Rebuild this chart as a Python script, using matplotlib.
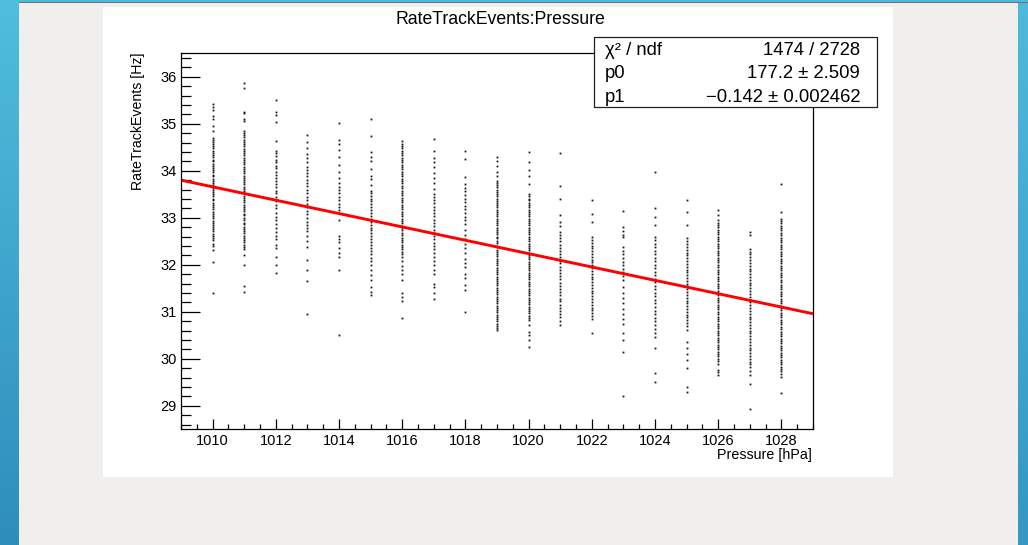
import matplotlib
matplotlib.use("Agg")
import matplotlib.pyplot as plt
import numpy as np
from matplotlib.patches import Rectangle
from matplotlib.ticker import MultipleLocator

plt.rcParams["font.family"] = ["Liberation Sans", "DejaVu Sans"]

# rate readings [Hz] per pressure bin [hPa]
pressures = [1010, 1011, 1012, 1013, 1014, 1015, 1016, 1017, 1018, 1019,
             1020, 1021, 1022, 1023, 1024, 1025, 1026, 1027, 1028]

rate_1010 = [35.42, 35.35, 35.29, 35.17, 35.10, 34.96, 34.85, 34.70, 34.66, 34.61, 34.57, 34.52,
             34.48, 34.43, 34.38, 34.34, 34.29, 34.24, 34.20, 34.15, 34.11, 34.06, 34.01, 33.97,
             33.92, 33.88, 33.83, 33.78, 33.74, 33.69, 33.64, 33.60, 33.55, 33.51, 33.46, 33.41,
             33.37, 33.32, 33.27, 33.22, 33.18, 33.13, 33.09, 33.04, 32.99, 32.94, 32.90, 32.85,
             32.80, 32.76, 32.71, 32.66, 32.62, 32.57, 32.52, 32.45, 32.39, 32.31, 32.06, 31.41]
rate_1011 = [35.87, 35.77, 35.26, 35.22, 35.10, 35.05, 34.85, 34.80, 34.76, 34.71, 34.66, 34.61,
             34.57, 34.52, 34.47, 34.42, 34.38, 34.33, 34.28, 34.23, 34.19, 34.14, 34.09, 34.04,
             34.00, 33.95, 33.90, 33.85, 33.81, 33.76, 33.71, 33.66, 33.62, 33.57, 33.52, 33.47,
             33.43, 33.38, 33.33, 33.28, 33.24, 33.19, 33.14, 33.09, 33.05, 33.00, 32.95, 32.90,
             32.86, 32.81, 32.76, 32.71, 32.67, 32.62, 32.57, 32.52, 32.48, 32.43, 32.38, 32.33,
             32.21, 32.00, 31.54, 31.42]
rate_1012 = [35.50, 35.25, 35.18, 35.04, 34.64, 34.43, 34.37, 34.31, 34.24, 34.18, 34.11, 34.05,
             33.98, 33.92, 33.85, 33.78, 33.72, 33.65, 33.58, 33.52, 33.45, 33.36, 33.27, 33.20,
             33.10, 33.02, 32.95, 32.86, 32.78, 32.70, 32.62, 32.55, 32.43, 32.35, 32.17, 31.99,
             31.82]
rate_1013 = [34.76, 34.62, 34.48, 34.36, 34.27, 34.18, 34.09, 34.02, 33.95, 33.88, 33.80, 33.74,
             33.67, 33.60, 33.52, 33.45, 33.38, 33.30, 33.22, 33.15, 33.08, 33.00, 32.92, 32.85,
             32.78, 32.72, 32.62, 32.51, 32.38, 32.10, 31.88, 31.66, 30.95]
rate_1014 = [35.02, 34.65, 34.58, 34.45, 34.30, 34.12, 33.98, 33.85, 33.75, 33.66, 33.60, 33.52,
             33.45, 33.38, 33.30, 33.24, 33.17, 33.10, 32.95, 32.62, 32.55, 32.48, 32.35, 32.25,
             32.16, 31.90, 30.51]
rate_1015 = [35.10, 34.75, 34.39, 34.30, 34.20, 34.03, 33.90, 33.83, 33.69, 33.58, 33.53, 33.47,
             33.41, 33.35, 33.29, 33.22, 33.16, 33.10, 33.04, 32.98, 32.92, 32.85, 32.79, 32.73,
             32.67, 32.61, 32.55, 32.48, 32.42, 32.36, 32.30, 32.22, 32.15, 32.09, 32.00, 31.88,
             31.78, 31.67, 31.53, 31.43, 31.35]
rate_1016 = [34.63, 34.58, 34.53, 34.48, 34.43, 34.38, 34.33, 34.28, 34.23, 34.18, 34.13, 34.08,
             34.03, 33.98, 33.93, 33.88, 33.83, 33.78, 33.73, 33.68, 33.63, 33.58, 33.53, 33.48,
             33.43, 33.38, 33.33, 33.28, 33.23, 33.18, 33.13, 33.08, 33.03, 32.98, 32.93, 32.88,
             32.83, 32.78, 32.73, 32.68, 32.63, 32.58, 32.53, 32.48, 32.43, 32.38, 32.33, 32.28,
             32.23, 32.16, 32.08, 31.98, 31.90, 31.80, 31.67, 31.40, 31.32, 31.23, 30.86]
rate_1017 = [34.68, 34.43, 34.28, 34.18, 34.08, 33.95, 33.85, 33.74, 33.62, 33.51, 33.44, 33.38,
             33.31, 33.24, 33.17, 33.10, 33.03, 32.96, 32.89, 32.82, 32.75, 32.68, 32.61, 32.54,
             32.47, 32.40, 32.33, 32.25, 32.17, 32.09, 32.00, 31.90, 31.81, 31.60, 31.52, 31.40,
             31.28]
rate_1018 = [34.43, 34.25, 33.86, 33.72, 33.64, 33.57, 33.48, 33.41, 33.33, 33.26, 33.18, 33.10,
             33.02, 32.95, 32.87, 32.73, 32.64, 32.55, 32.45, 32.35, 32.25, 32.12, 32.04, 31.95,
             31.81, 31.72, 31.58, 31.46, 31.00]
rate_1019 = [34.29, 34.20, 34.10, 33.98, 33.88, 33.79, 33.74, 33.70, 33.65, 33.60, 33.55, 33.51,
             33.46, 33.41, 33.36, 33.32, 33.27, 33.22, 33.17, 33.13, 33.08, 33.03, 32.98, 32.94,
             32.89, 32.84, 32.79, 32.75, 32.70, 32.65, 32.60, 32.56, 32.51, 32.46, 32.41, 32.37,
             32.32, 32.27, 32.22, 32.18, 32.13, 32.08, 32.03, 31.99, 31.94, 31.89, 31.84, 31.80,
             31.75, 31.70, 31.65, 31.61, 31.56, 31.51, 31.46, 31.42, 31.37, 31.32, 31.27, 31.23,
             31.18, 31.13, 31.08, 31.04, 30.99, 30.94, 30.89, 30.85, 30.80, 30.75, 30.70, 30.66,
             30.61]
rate_1020 = [34.39, 34.18, 34.02, 33.90, 33.72, 33.51, 33.46, 33.41, 33.37, 33.32, 33.27, 33.22,
             33.17, 33.13, 33.08, 33.03, 32.98, 32.93, 32.89, 32.84, 32.79, 32.74, 32.69, 32.65,
             32.60, 32.55, 32.50, 32.45, 32.41, 32.36, 32.31, 32.26, 32.21, 32.17, 32.12, 32.07,
             32.02, 31.97, 31.93, 31.88, 31.83, 31.78, 31.73, 31.69, 31.64, 31.59, 31.54, 31.49,
             31.45, 31.40, 31.35, 31.30, 31.25, 31.21, 31.16, 31.11, 31.06, 31.01, 30.97, 30.92,
             30.87, 30.82, 30.71, 30.58, 30.50, 30.39, 30.25]
rate_1021 = [34.37, 33.68, 33.40, 33.05, 32.92, 32.82, 32.70, 32.63, 32.57, 32.50, 32.43, 32.36,
             32.30, 32.23, 32.16, 32.09, 32.03, 31.96, 31.89, 31.82, 31.76, 31.69, 31.62, 31.55,
             31.49, 31.42, 31.35, 31.28, 31.22, 31.15, 31.08, 31.01, 30.95, 30.88, 30.81, 30.71]
rate_1022 = [33.37, 33.09, 32.91, 32.59, 32.53, 32.47, 32.41, 32.35, 32.29, 32.23, 32.17, 32.11,
             32.05, 31.99, 31.93, 31.87, 31.81, 31.75, 31.69, 31.63, 31.57, 31.51, 31.45, 31.39,
             31.33, 31.27, 31.21, 31.15, 31.09, 31.03, 30.97, 30.91, 30.85, 30.54]
rate_1023 = [33.14, 32.80, 32.72, 32.64, 32.59, 32.38, 32.30, 32.22, 32.15, 32.07, 32.00, 31.92,
             31.85, 31.76, 31.67, 31.52, 31.40, 31.30, 31.18, 31.07, 30.95, 30.85, 30.75, 30.54,
             30.40, 30.15, 29.20]
rate_1024 = [33.97, 33.21, 33.02, 32.84, 32.59, 32.52, 32.45, 32.38, 32.30, 32.22, 32.15, 32.08,
             32.00, 31.93, 31.85, 31.78, 31.70, 31.63, 31.55, 31.48, 31.40, 31.33, 31.25, 31.18,
             31.10, 31.02, 30.95, 30.87, 30.80, 30.72, 30.63, 30.55, 30.47, 30.22, 29.69, 29.51]
rate_1025 = [33.37, 33.12, 32.84, 32.56, 32.50, 32.44, 32.38, 32.32, 32.26, 32.20, 32.14, 32.08,
             32.02, 31.96, 31.90, 31.84, 31.78, 31.72, 31.66, 31.60, 31.54, 31.48, 31.42, 31.36,
             31.30, 31.24, 31.18, 31.12, 31.06, 31.00, 30.94, 30.88, 30.82, 30.76, 30.70, 30.61,
             30.36, 30.22, 30.10, 29.97, 29.80, 29.41, 29.30]
rate_1026 = [33.16, 33.06, 32.95, 32.90, 32.85, 32.80, 32.75, 32.70, 32.65, 32.60, 32.55, 32.50,
             32.45, 32.40, 32.35, 32.30, 32.25, 32.20, 32.15, 32.10, 32.05, 32.00, 31.95, 31.90,
             31.85, 31.80, 31.75, 31.70, 31.65, 31.60, 31.55, 31.50, 31.45, 31.40, 31.35, 31.30,
             31.25, 31.20, 31.15, 31.10, 31.05, 31.00, 30.95, 30.90, 30.85, 30.80, 30.75, 30.70,
             30.65, 30.60, 30.55, 30.50, 30.45, 30.40, 30.35, 30.30, 30.25, 30.20, 30.15, 30.10,
             30.05, 30.00, 29.95, 29.90, 29.76, 29.71, 29.66]
rate_1027 = [32.70, 32.63, 32.34, 32.28, 32.22, 32.16, 32.10, 32.04, 31.98, 31.92, 31.86, 31.80,
             31.74, 31.68, 31.62, 31.56, 31.50, 31.44, 31.38, 31.32, 31.26, 31.20, 31.14, 31.08,
             31.02, 30.96, 30.90, 30.84, 30.78, 30.72, 30.66, 30.60, 30.54, 30.48, 30.42, 30.36,
             30.30, 30.24, 30.18, 30.12, 30.06, 30.00, 29.94, 29.88, 29.83, 29.74, 29.66, 29.46,
             28.93]
rate_1028 = [33.72, 33.12, 32.98, 32.93, 32.88, 32.83, 32.78, 32.73, 32.68, 32.63, 32.58, 32.53,
             32.48, 32.43, 32.38, 32.33, 32.28, 32.23, 32.18, 32.13, 32.08, 32.03, 31.98, 31.93,
             31.88, 31.83, 31.78, 31.73, 31.68, 31.63, 31.58, 31.53, 31.48, 31.43, 31.38, 31.33,
             31.28, 31.23, 31.18, 31.13, 31.08, 31.03, 30.98, 30.93, 30.88, 30.83, 30.78, 30.73,
             30.68, 30.63, 30.58, 30.53, 30.48, 30.43, 30.38, 30.33, 30.28, 30.23, 30.18, 30.13,
             30.08, 30.03, 29.98, 29.93, 29.88, 29.83, 29.78, 29.73, 29.68, 29.62, 29.28]

rates = [rate_1010, rate_1011, rate_1012, rate_1013, rate_1014, rate_1015, rate_1016,
         rate_1017, rate_1018, rate_1019, rate_1020, rate_1021, rate_1022, rate_1023,
         rate_1024, rate_1025, rate_1026, rate_1027, rate_1028]

# linear fit result: rate = p0 + p1 * pressure
p0, p0_err = 177.2, 2.509
p1, p1_err = -0.14212, 0.002462
chi2, ndf = 1474, 2728
fit_range = (1009, 1029)

W, H = 1028, 545
fig = plt.figure(figsize=(W / 100, H / 100), dpi=100, facecolor="#f0efee")


def fx(px):
    return px / W


def fy(py):
    return 1 - py / H


# slide decoration: blue side strips, top band, white canvas
grad = fig.add_axes([0, 0, fx(19), 1], zorder=-5)
grad.imshow(np.linspace(0, 1, 256).reshape(-1, 1), aspect="auto",
            cmap=matplotlib.colors.LinearSegmentedColormap.from_list("bar", ["#50bedd", "#2e8dbc"]),
            extent=(0, 1, 0, 1), origin="upper")
grad.set_axis_off()
right = fig.add_axes([fx(1018), 0, fx(10), 1], zorder=-5)
right.imshow(np.linspace(0, 1, 256).reshape(-1, 1), aspect="auto",
             cmap=matplotlib.colors.LinearSegmentedColormap.from_list("bar2", ["#4fbadb", "#3497c4"]),
             extent=(0, 1, 0, 1), origin="upper")
right.set_axis_off()
fig.add_artist(Rectangle((fx(19), fy(2)), 1, fy(0) - fy(2), transform=fig.transFigure,
                         facecolor="#4db8da", edgecolor="none", zorder=-4))
fig.add_artist(Rectangle((fx(19), fy(3.2)), 1, fy(2) - fy(3.2), transform=fig.transFigure,
                         facecolor="#6e7072", edgecolor="none", zorder=-4))
fig.add_artist(Rectangle((fx(103), fy(477)), fx(893) - fx(103), fy(7) - fy(477),
                         transform=fig.transFigure, facecolor="white", edgecolor="none",
                         zorder=-4))

ax = fig.add_axes([fx(181), fy(429.3), fx(813) - fx(181), fy(53.3) - fy(429.3)])
ax.patch.set_alpha(0)

for p, vals in zip(pressures, rates):
    ax.plot(np.full(len(vals), p), vals, linestyle="none", marker="s", markersize=1.3,
            markeredgewidth=0, color="#141414")

fx_line = np.array(fit_range, dtype=float)
ax.plot(fx_line, p0 + p1 * fx_line, color="#ff0000", linewidth=2.1, solid_capstyle="butt")

ax.set_xlim(1009, 1029)
ax.set_ylim(28.5, 36.5)
ax.xaxis.set_major_locator(MultipleLocator(2))
ax.xaxis.set_minor_locator(MultipleLocator(0.5))
ax.yaxis.set_major_locator(MultipleLocator(1))
ax.yaxis.set_minor_locator(MultipleLocator(0.2))
ax.tick_params(axis="x", which="major", direction="in", length=7.2, width=0.9,
               labelsize=10.5, pad=3.5)
ax.tick_params(axis="x", which="minor", direction="in", length=3.6, width=0.9)
ax.tick_params(axis="y", which="major", direction="in", length=14, width=0.9,
               labelsize=10.5, pad=3)
ax.tick_params(axis="y", which="minor", direction="in", length=7, width=0.9)
for s in ax.spines.values():
    s.set_linewidth(0.9)

fig.text(fx(500), fy(20), "RateTrackEvents:Pressure", ha="center", va="center", fontsize=12.7)
fig.text(fx(137.7), fy(52), "RateTrackEvents [Hz]", rotation=90, ha="center", va="top",
         fontsize=10.2)
fig.text(fx(812), fy(455.5), "Pressure [hPa]", ha="right", va="center", fontsize=10.3)

# fit statistics box
fig.add_artist(Rectangle((fx(594), fy(107)), fx(877) - fx(594), fy(36.7) - fy(107),
                         transform=fig.transFigure, facecolor="white", edgecolor="#222222",
                         linewidth=0.9, zorder=5))
rows = [
    ("\u03c7\u00b2 / ndf", f"{chi2} / {ndf}"),
    ("p0", f"{p0:.1f} \u00b1 {p0_err:.3f}"),
    ("p1", f"{p1:.3f} \u00b1 {p1_err:.6f}".replace("-", "\u2212")),
]
for (name, value), ypx in zip(rows, [50.7, 74, 98]):
    fig.text(fx(605), fy(ypx), name, ha="left", va="center", fontsize=13.3, zorder=6)
    fig.text(fx(860), fy(ypx), value, ha="right", va="center", fontsize=13.3, zorder=6)

fig.savefig("out.png", dpi=100, facecolor=fig.get_facecolor())
